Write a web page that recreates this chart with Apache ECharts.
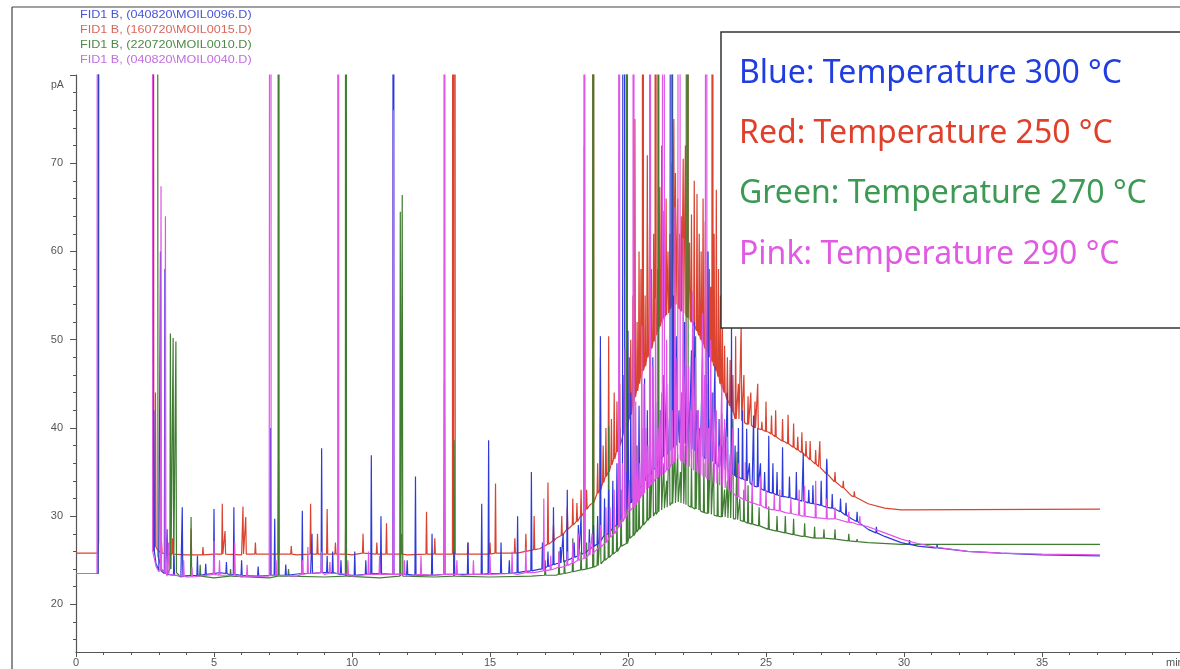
<!DOCTYPE html>
<html>
<head>
<meta charset="utf-8">
<script src="https://cdn.jsdelivr.net/npm/echarts@6/dist/echarts.min.js"></script>
<style>html,body{margin:0;padding:0;background:#fff;}#c{width:1180px;height:669px;}</style>
</head>
<body>
<div id="c"></div>
<script>
// ---- axis ticks / labels ----
const xLabelTicks = [0, 5, 10, 15, 20, 25, 30, 35];
const yLabelTicks = [20, 30, 40, 50, 60, 70];
const yMinorTicks = [16, 18, 22, 24, 26, 28, 32, 34, 36, 38, 42, 44, 46, 48, 52, 54, 56, 58, 62, 64, 66, 68, 72, 74, 76, 78];
const headerLines = ['FID1 B, (040820\\MOIL0096.D)', 'FID1 B, (160720\\MOIL0015.D)', 'FID1 B, (220720\\MOIL0010.D)', 'FID1 B, (040820\\MOIL0040.D)'];
const legendLines = ['Blue: Temperature 300 °C', 'Red: Temperature 250 °C', 'Green: Temperature 270 °C', 'Pink: Temperature 290 °C'];

// ---- baselines [time(min), pA] (300 = off scale, solvent) ----
const blueBase = [[0,23.5],[0.8,23.5],[0.84,300],[2.76,300],[2.8,26.5],[2.9,24.6],[3.0,23.9],[3.3,23.4],[3.8,23.2],[4.5,23.3],[5.2,23.6],[5.6,23.3],[6.5,23.2],[7.5,23.3],[8.5,23.5],[9.2,23.6],[10,23.3],[10.8,23.5],[11.6,23.4],[12.5,23.3],[13.5,23.4],[14.5,23.4],[15.5,23.5],[16.2,23.7],[16.8,24.0],[17.4,24.6],[18.0,25.3],[18.6,26.3],[19.2,28.0],[19.8,30.5],[20.3,33.0],[20.8,35.0],[21.3,36.8],[21.8,38.5],[22.3,37.6],[22.8,36.5],[23.3,35.6],[23.9,34.5],[24.5,33.5],[25.1,32.7],[25.7,32.2],[26.3,31.7],[26.9,31.3],[27.5,30.8],[28.1,29.7],[28.7,28.5],[29.3,27.7],[29.9,27.0],[30.5,26.6],[31.1,26.4],[32.3,26.0],[33.5,25.8],[35.0,25.6],[37.1,25.5]];
const redBase = [[0,25.8],[0.8,25.8],[0.82,27.3],[0.85,300],[2.78,300],[2.82,27.5],[2.95,26.2],[3.1,25.8],[4,25.6],[5,25.7],[6,25.6],[7,25.7],[8,25.6],[9,25.7],[10,25.6],[11,25.7],[12,25.6],[13,25.7],[14,25.7],[15,25.7],[16.0,25.8],[16.8,26.3],[17.4,27.5],[18.0,29.0],[18.6,31.2],[19.2,34.5],[19.8,39.0],[20.4,45.0],[21.0,50.5],[21.6,54.0],[22.2,52.5],[22.8,49.0],[23.4,44.5],[23.9,41.0],[24.5,40.2],[25.1,39.5],[25.7,38.4],[26.3,37.2],[26.9,35.6],[27.5,33.9],[28.1,32.3],[28.7,31.4],[29.3,30.9],[29.9,30.7],[37.1,30.8]];
const greenBase = [[0,23.5],[0.8,23.5],[0.86,300],[2.93,300],[2.97,25.5],[3.1,24],[3.3,23.4],[3.8,23.1],[5,23.0],[7,23.0],[9,23.1],[11,23.0],[13,23.1],[15,23.1],[16.5,23.2],[17.4,23.3],[18.0,23.7],[18.6,24.1],[19.2,25.2],[19.8,26.8],[20.4,28.6],[21.0,30.5],[21.6,31.6],[22.2,31.0],[22.8,30.3],[23.4,29.9],[23.9,29.7],[24.5,29.1],[25.1,28.5],[25.7,28.1],[26.3,27.7],[26.9,27.5],[27.5,27.4],[28.7,27.0],[29.9,26.8],[37.1,26.8]];
const pinkBase = [[0,23.5],[0.76,23.5],[0.8,300],[2.74,300],[2.78,26],[2.9,24.3],[3.0,23.7],[3.3,23.2],[4,23.1],[5,23.2],[6,23.1],[7,23.2],[8,23.2],[9,23.4],[10,23.2],[11,23.3],[12,23.2],[13,23.3],[14,23.3],[15,23.3],[16,23.4],[16.6,23.6],[17.0,23.8],[17.6,24.2],[18.2,25.0],[18.8,26.0],[19.4,27.8],[20.0,30.5],[20.6,33.0],[21.2,34.8],[21.8,36.5],[22.4,35.0],[23.0,34.0],[23.6,33.0],[23.9,32.3],[24.5,31.5],[25.1,30.8],[25.7,30.4],[26.3,30.0],[26.9,29.8],[27.5,29.7],[28.1,29.3],[28.7,28.8],[29.3,28.1],[29.9,27.4],[30.5,26.9],[31.1,26.5],[32.3,26.0],[33.5,25.8],[35,25.7],[37.1,25.6]];

// ---- peaks [time(min), base pA, apex pA] ----
const bluePeaks = [[2.82,26,42],[3.06,23.8,60],[3.22,23.5,58],[3.3,23.4,28.5],[3.55,23.3,25.5],[3.85,23.2,31],[4.4,23.3,25.5],[4.7,23.4,24.6],[5.0,23.5,30.8],[5.45,23.5,24.8],[5.72,23.4,31],[6.0,23.3,25],[6.6,23.2,24.3],[7.05,23.3,40],[7.2,23.3,29.7],[7.6,23.3,24.5],[8.2,23.5,30.6],[8.55,23.5,28],[8.9,23.6,37.7],[9.1,23.6,25.5],[9.3,23.6,26],[9.6,23.4,25],[10.1,23.3,26],[10.5,23.4,25],[10.7,23.5,36.9],[11.05,23.5,30],[11.5,23.4,300],[12.0,23.4,25],[12.3,23.3,34.5],[12.9,23.3,28],[13.35,23.4,45.3],[13.7,23.4,26],[14.2,23.4,27],[14.7,23.4,31.4],[14.95,23.5,38.6],[15.4,23.5,27],[15.7,23.5,25],[16.0,23.6,30],[16.5,23.8,35],[16.9,24,27],[17.3,24.5,31],[17.55,24.7,26.5],[17.8,25,33],[18.2,25.5,29],[18.42,25.8,72],[18.6,26.2,28.5],[18.9,26.8,30],[19.0,27.2,50.4],[19.3,28,33],[19.6,29,36],[19.86,30.5,300],[20.0,31,51],[20.2,32,38],[20.4,33,42.5],[20.6,34,45.6],[20.8,34.6,40],[21.0,35.5,43],[21.2,36.5,42],[21.4,37,45],[21.58,37.5,300],[21.75,38,50.4],[21.95,38.4,44],[22.1,38,47],[22.3,37.6,48.8],[22.5,37.2,42],[22.7,36.8,48],[22.9,36.5,60],[23.05,36.2,44],[23.3,35.6,41],[23.5,35.3,40],[23.75,34.9,51.6],[24.0,34.4,40],[24.3,34,39.9],[24.55,33.4,41.4],[24.8,33.1,36],[25.1,32.7,39.1],[25.4,32.4,35],[25.6,32.2,37.8],[26.1,31.9,35],[26.35,31.7,37.2],[26.7,31.4,33.5],[27.2,31,36.5],[27.9,30.1,31.5],[28.3,29.4,30.5],[29.0,28.1,28.8],[30.2,26.8,27.3],[31.2,26.4,26.8]];
const blueMinorPeaks = [[17.1,24.3,26],[17.65,24.8,28],[18.05,25.3,27],[18.3,25.7,30],[18.75,26.6,29],[19.15,27.8,32],[19.45,28.6,34],[19.7,29.6,40],[19.95,30.8,35],[20.1,31.5,44],[20.3,32.5,36],[20.5,33.5,40],[20.7,34.4,42],[20.9,35.2,48],[21.1,36,39],[21.3,36.8,46],[21.5,37.4,41],[21.65,37.8,55],[21.85,38.3,42],[22.05,38.2,52],[22.2,37.8,43],[22.4,37.4,52],[22.6,37,40],[22.8,36.5,46],[22.98,36.3,41],[23.15,36,47],[23.4,35.5,38],[23.6,35.2,44],[23.88,34.6,38],[24.15,34.2,42],[24.4,33.8,36],[24.7,33.3,40],[24.95,32.9,35],[25.25,32.6,36],[25.85,32.1,34.5],[26.55,31.5,33],[27.0,31.2,34],[27.4,30.9,32.5],[27.7,30.5,32]];
const redPeaks = [[2.88,26.5,44],[3.1,25.8,27],[3.5,25.7,27.5],[4.17,25.6,28.6],[4.6,25.6,26.5],[5.3,25.7,31.4],[5.4,25.7,28.3],[6.05,25.7,31.1],[6.15,25.7,29.9],[6.5,25.7,27],[7.34,25.7,36.1],[7.8,25.7,26.6],[8.5,25.7,31.4],[8.75,25.7,28],[9.1,25.7,30.8],[9.4,25.7,27],[9.78,25.7,33.5],[10.4,25.8,28],[10.9,25.7,27],[11.25,25.7,29.2],[11.8,25.7,28],[12.7,25.7,30.5],[13.0,25.7,27.5],[13.66,25.7,300],[13.72,25.7,300],[14.2,25.7,27],[15.0,25.7,27],[15.2,25.8,33.7],[15.9,25.8,27.5],[16.3,26,28],[16.6,26.2,30],[17.1,26.8,33.8],[17.6,27.8,30],[18.0,29,32],[18.3,30,33],[18.74,31.5,300],[19.0,33,48],[19.2,34.5,40],[19.3,35,50.4],[19.5,36.5,44],[19.7,38,45],[19.96,40,300],[20.1,41.5,50],[20.25,43.5,75],[20.4,45,60],[20.54,46.5,300],[20.7,48,70.9],[20.85,49,58],[21.0,50.5,300],[21.15,51.5,67.3],[21.3,52.5,64.6],[21.45,53,60],[21.6,54,70],[21.72,54,68.9],[21.87,53.5,62],[22.0,53,70.5],[22.16,52.5,300],[22.3,52,64.2],[22.5,51,66.5],[22.65,50,60],[22.8,49,63.4],[22.95,48,58],[23.06,47.5,300],[23.2,46.5,67],[23.35,45,55],[23.5,44,49.3],[23.7,42.5,47.7],[23.9,41,50.4],[24.1,40.8,51.6],[24.35,40.4,43.6],[24.6,40,43],[24.85,39.8,40.7],[25.0,39.6,43],[25.2,39.3,41.4],[25.6,38.5,41],[26.0,37.8,40.5],[26.3,37.2,39.5],[26.6,36.4,38.5],[26.95,35.5,38.5],[27.5,33.9,35],[28.2,32.2,32.8]];
const redMinorPeaks = [[17.3,27.2,29],[17.8,28.5,31],[18.15,29.4,31.5],[18.5,30.8,33],[18.9,32.6,36],[19.1,33.8,38],[19.4,35.8,41],[19.6,37.3,43],[19.85,39.4,46],[20.05,41,48],[20.18,42.5,55],[20.33,44.2,52],[20.47,45.8,58],[20.62,47,55],[20.78,48.5,63],[20.93,49.8,62],[21.08,51,58],[21.22,52,72],[21.38,52.8,66],[21.52,53.5,62],[21.66,54,75],[21.8,53.8,66],[21.93,53.2,64],[22.08,52.8,72],[22.23,52.4,61],[22.4,51.6,68],[22.58,50.5,62],[22.72,49.6,66],[22.88,48.6,60],[23.0,48,56],[23.12,47,62],[23.28,45.8,58],[23.42,44.4,52],[23.6,43.2,48],[23.8,41.8,46],[24.0,41,45],[24.2,40.6,46],[24.45,40.3,44],[24.7,39.9,45],[25.35,39,42],[25.8,38.2,41.5],[26.15,37.5,39],[26.45,36.8,38.5],[26.8,35.9,37.5],[27.2,34.8,36.3],[27.8,33.2,34]];
const greenPeaks = [[3.42,24,50.7],[3.52,23.8,50.2],[3.62,23.6,49.8],[4.17,23.3,29.9],[4.5,23.2,24.5],[5.6,23.2,24],[7.34,23.2,300],[7.7,23.2,24],[9.78,23.2,300],[11.75,23.2,64.5],[11.82,23.2,66.4],[13.7,23.2,38.6],[17.0,23.3,25],[17.5,23.4,26],[18.0,23.7,27.5],[18.74,24.2,300],[19.0,24.6,29],[19.3,25.3,40.2],[19.6,26,30],[19.96,26.9,300],[20.2,27.8,46.7],[20.4,28.5,33],[20.7,29.5,35],[20.9,30,38],[21.1,30.5,300],[21.3,30.9,36],[21.5,31.2,40],[21.6,31.4,300],[21.8,31.6,37],[22.0,31.4,42],[22.16,31.2,300],[22.45,30.8,50.4],[22.6,30.6,38],[22.9,30.3,45],[23.1,30.1,36],[23.4,29.9,41.6],[23.6,29.8,34],[23.8,29.7,41],[23.95,29.6,37.3],[24.2,29.4,33],[24.5,29.1,32],[25.1,28.5,31.1],[25.7,28.1,30],[26.0,27.9,29.7],[26.76,27.5,28.8],[27.5,27.4,28.5],[28.3,27.1,27.4]];
const greenMinorPeaks = [[17.7,23.5,25],[18.3,23.9,26],[18.5,24,27],[18.9,24.4,27.5],[19.15,25,28],[19.45,25.7,31],[19.75,26.6,33],[20.05,27.5,34],[20.3,28.2,38],[20.55,29,36],[20.8,29.8,40],[21.0,30.2,35],[21.2,30.7,42],[21.4,31,34],[21.7,31.5,38],[21.9,31.5,35],[22.08,31.3,38],[22.3,31,36],[22.55,30.7,42],[22.75,30.4,36],[23.0,30.2,39],[23.25,30,35],[23.5,29.9,33],[23.7,29.8,36],[24.05,29.5,32],[24.35,29.2,33.5],[24.75,28.9,31],[25.4,28.3,30],[26.4,27.7,29.2],[27.1,27.5,28.5],[28.0,27.2,28]];
const pinkPeaks = [[3.08,24,67.4],[3.24,23.6,64],[3.35,23.4,27],[3.9,23.2,25],[4.2,23.1,24.2],[5.0,23.4,27.2],[5.2,23.3,25],[5.75,23.3,27],[6.2,23.2,24.5],[7.05,23.3,300],[7.25,23.3,25],[8.2,23.4,25],[8.4,23.5,26.5],[8.9,23.6,26],[9.2,23.5,24.8],[9.5,23.5,300],[9.85,23.4,25],[10.6,23.4,26],[11.0,23.4,25.5],[11.5,23.4,76],[11.9,23.4,25],[12.5,23.4,25.5],[13.35,23.4,300],[13.8,23.4,25],[14.4,23.4,25],[15.0,23.4,25.5],[15.8,23.5,26],[16.3,23.6,26.5],[16.95,23.8,32],[17.5,24.2,26],[18.0,24.7,27],[18.42,25.2,300],[18.7,25.7,28],[19.2,27,31],[19.5,28,33],[19.68,28.8,300],[19.9,29.8,49],[20.2,31,300],[20.35,31.6,38],[20.5,32.3,51.6],[20.65,33,40],[20.8,33.5,300],[21.0,34.2,54.7],[21.15,34.6,42],[21.3,34.9,300],[21.5,35.5,45],[21.7,36.2,65],[21.87,36.5,300],[22.0,36,61.5],[22.2,35.6,47],[22.35,35.2,55.5],[22.55,34.8,42],[22.7,34.5,53],[22.84,34.2,300],[23.0,34,50],[23.2,33.7,42],[23.4,33.4,45],[23.6,33,39],[23.8,32.6,40],[24.25,31.8,36.1],[24.8,31.2,34.5],[25.5,30.6,33],[26.4,30,33.4],[26.8,29.8,34],[27.2,29.7,32],[28.0,29.3,30.5]];
const pinkMinorPeaks = [[17.2,23.9,25.5],[17.8,24.4,26],[18.2,25,28],[18.6,25.6,27],[19.0,26.5,29],[19.35,27.6,31],[19.8,29.4,36],[20.05,30.6,34],[20.28,31.3,43],[20.42,32,36],[20.58,32.6,45],[20.72,33.2,38],[20.9,33.8,47],[21.08,34.4,40],[21.22,34.7,44],[21.4,35.2,50],[21.6,35.9,42],[21.78,36.4,48],[21.95,36.2,44],[22.1,35.8,52],[22.28,35.4,42],[22.45,35,48],[22.62,34.7,40],[22.78,34.4,46],[22.92,34.1,40],[23.1,33.8,44],[23.3,33.5,38],[23.5,33.2,41],[23.7,32.8,37],[24.0,32.2,36],[24.5,31.5,34],[25.0,30.9,33],[25.3,30.7,32.5],[25.9,30.3,32],[26.2,30.1,33],[27.5,29.7,31],[28.4,29,30]];

function build(base, peaks, minor) {
  const pts = base.map(p => [p[0], p[1]]);
  peaks.concat(minor).forEach(p => { pts.push([p[0] - 0.02, p[1]], [p[0], p[2]], [p[0] + 0.02, p[1]]); });
  pts.sort((a, b) => a[0] - b[0]);
  return pts;
}

const colors = { blue: '#2e3bd9', red: '#d9432f', green: '#3f7d32', pink: '#e055e8' };
const chart = echarts.init(document.getElementById('c'), null, { renderer: 'canvas' });

function line(name, data, color) {
  return { name, type: 'line', data, showSymbol: false, symbol: 'none', clip: true, animation: false,
    lineStyle: { color, width: 1.2 }, itemStyle: { color }, xAxisIndex: 0, yAxisIndex: 0 };
}

const axisGrey = '#555';
const graphics = [
  { type: 'line', shape: { x1: 12, y1: 7, x2: 1180, y2: 7 }, style: { stroke: '#444', lineWidth: 1.2 }, z: 100 },
  { type: 'line', shape: { x1: 12, y1: 7, x2: 12, y2: 669 }, style: { stroke: '#444', lineWidth: 1.2 }, z: 100 },
  { type: 'text', x: 51, y: 85, style: { text: 'pA', font: '10.5px "Liberation Sans"', fill: '#555', textVerticalAlign: 'middle' }, z: 100 },
  { type: 'text', x: 1166, y: 663, style: { text: 'min', font: '11px "Liberation Sans"', fill: '#555', textVerticalAlign: 'middle' }, z: 100 },
  { type: 'rect', shape: { x: 721, y: 32, width: 470, height: 296 }, style: { fill: '#fff', stroke: '#333', lineWidth: 1.5 }, z: 100 }
];
const hdrColors = ['#4a55d6', '#d9685c', '#4f8a47', '#c46ee0'];
headerLines.forEach((t, i) => graphics.push({ type: 'text', x: 80, y: 15 + i * 15.2, scaleX: 1.2, style: { text: t, font: '10.5px "Liberation Sans"', fill: hdrColors[i], textVerticalAlign: 'middle' }, z: 101 }));
const legColors = ['#1f3de0', '#e0402b', '#3d9a55', '#e05ae2'];
const legY = [74, 134, 194, 255];
legendLines.forEach((t, i) => graphics.push({ type: 'text', x: 739, y: legY[i], style: { text: t, font: '32px "Noto Sans"', fill: legColors[i], textVerticalAlign: 'middle' }, z: 101 }));

chart.setOption({
  animation: false,
  backgroundColor: '#fff',
  grid: { left: 76, top: 75, width: 1112, height: 577, containLabel: false },
  xAxis: [{
    type: 'value', min: 0, max: 40, interval: 5,
    axisLine: { show: true, lineStyle: { color: axisGrey, width: 1.2 } },
    axisTick: { show: true, length: 5, inside: false, lineStyle: { color: axisGrey } },
    minorTick: { show: true, splitNumber: 5, length: 3, lineStyle: { color: axisGrey } },
    splitLine: { show: false },
    axisLabel: { color: '#555', fontFamily: 'Liberation Sans', fontSize: 11, margin: 5, customValues: xLabelTicks }
  }],
  yAxis: [{
    type: 'value', min: 14.6, max: 80,
    axisLine: { show: true, lineStyle: { color: axisGrey, width: 1.2 } },
    axisTick: { show: true, length: 6, customValues: yLabelTicks.concat([80]), lineStyle: { color: axisGrey } },
    splitLine: { show: false },
    axisLabel: { color: '#555', fontFamily: 'Liberation Sans', fontSize: 11, margin: 13, customValues: yLabelTicks }
  }, {
    type: 'value', min: 14.6, max: 80, position: 'left',
    axisLine: { show: false },
    axisTick: { show: true, length: 3, customValues: yMinorTicks, lineStyle: { color: axisGrey } },
    splitLine: { show: false },
    axisLabel: { show: false, customValues: yMinorTicks }
  }],
  series: [
    line('Red', build(redBase, redPeaks, redMinorPeaks), colors.red),
    line('Green', build(greenBase, greenPeaks, greenMinorPeaks), colors.green),
    line('Blue', build(blueBase, bluePeaks, blueMinorPeaks), colors.blue),
    line('Pink', build(pinkBase, pinkPeaks, pinkMinorPeaks), colors.pink)
  ],
  graphic: graphics
});
</script>
</body>
</html>
